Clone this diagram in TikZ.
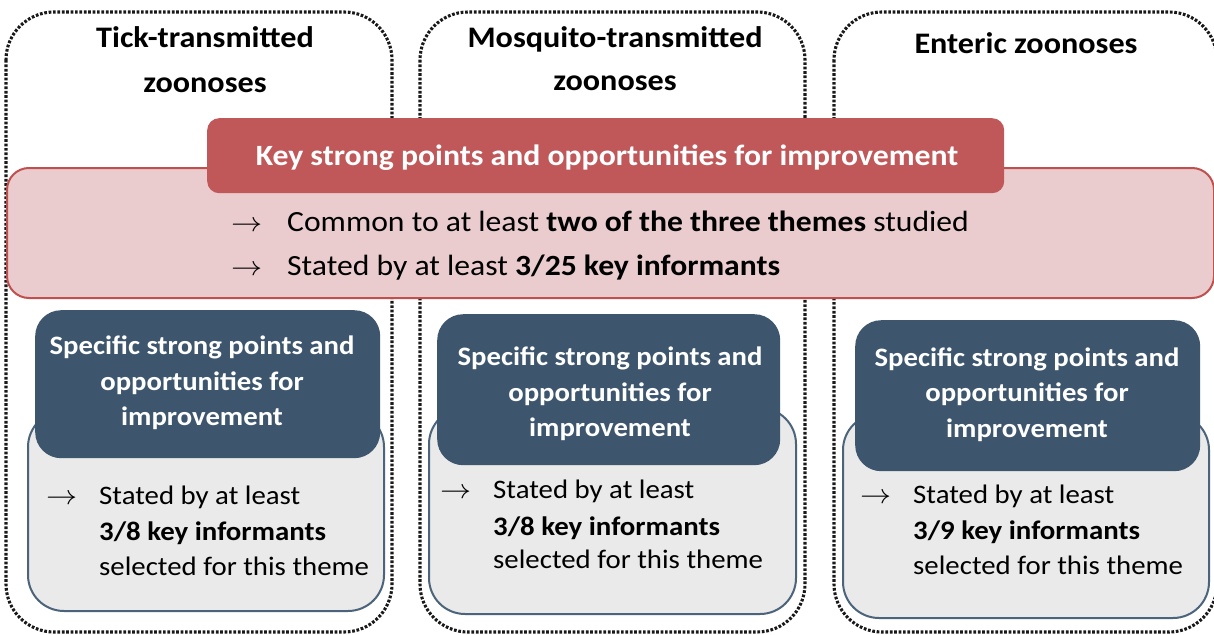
\documentclass[tikz,border=0pt]{standalone}
\usepackage{fontspec}
\setmainfont{Carlito}[FakeStretch=1.08]
\begin{document}
\begin{tikzpicture}[x=1pt,y=-1pt,
  column/.style={draw=black!90, line width=3.1pt, dash pattern=on 2.7pt off 1.7pt,
    rounded corners=48pt},
  keybox/.style={fill=keyfill, draw=keyline, line width=2pt, rounded corners=22pt,
    inner sep=0pt, anchor=north west},
  keyhead/.style={fill=keyhead, draw=none, rounded corners=12pt, inner sep=0pt,
    anchor=north west},
  themebox/.style={fill=themefill, draw=themeline, line width=2pt, rounded corners=36pt,
    inner sep=0pt, anchor=north west},
  themehead/.style={fill=themehead, draw=none, rounded corners=26pt, inner sep=0pt,
    anchor=north west},
  coltitle/.style={font=\bfseries\fontsize{29.8}{34}\selectfont, inner sep=0pt, anchor=base},
  headtxt/.style={font=\bfseries\fontsize{29.4}{34}\selectfont, text=white, inner sep=0pt, anchor=base},
  keytxt/.style={font=\fontsize{29.3}{34}\selectfont, inner sep=0pt, anchor=base west},
  subhead/.style={font=\bfseries\fontsize{26.6}{32}\selectfont, text=white, inner sep=0pt, anchor=base},
  subtxt/.style={font=\fontsize{26.7}{32}\selectfont, inner sep=0pt, anchor=base west},
  arr/.style={font=\fontsize{36}{36}\selectfont, inner sep=0pt, anchor=base west},
]
\definecolor{keyfill}{HTML}{EACCCE}
\definecolor{keyline}{HTML}{C0504D}
\definecolor{keyhead}{HTML}{C0585A}
\definecolor{themefill}{HTML}{EAEAEA}
\definecolor{themeline}{HTML}{4B637B}
\definecolor{themehead}{HTML}{3D566E}
\newcommand{\bularrow}{\scalebox{1.25}[1.1]{$\rightarrow$}}

\useasboundingbox (0,0) rectangle (1214,634);

% dotted theme columns
\draw[column] (6,12) rectangle (392,632);
\draw[column] (420,12) rectangle (805,632);
\draw[column] (834,12) rectangle (1217,632);

% column titles
\node[coltitle] (t1a) at (205,48) {Tick-transmitted};
\node[coltitle] (t1b) at (205,92) {zoonoses};
\node[coltitle] (t2a) at (615,48) {Mosquito-transmitted};
\node[coltitle] (t2b) at (615,90) {zoonoses};
\node[coltitle] (t3) at (1026,53) {Enteric zoonoses};

% shared key points band
\node[keybox, minimum width=1207pt, minimum height=130pt] (band) at (6,167) {};
\node[keyhead, minimum width=797pt, minimum height=75pt] (head) at (207,118) {};
\node[headtxt] (headt) at (607,165) {Key strong points and opportunities for improvement};
\node[arr] (ka1) at (231,231.5) {\bularrow};
\node[keytxt] (k1) at (287,231.5) {Common to at least \textbf{two of the three themes} studied};
\node[arr] (ka2) at (231,275) {\bularrow};
\node[keytxt] (k2) at (287,275) {Stated by at least \textbf{3/25 key informants}};

% theme 1
\node[themebox, minimum width=356pt, minimum height=200pt] (g1) at (27,410) {};
\node[themehead, minimum width=345pt, minimum height=148pt] (b1) at (35,310) {};
\node[subhead] (b1a) at (202,354) {Specific strong points and};
\node[subhead] (b1b) at (202,390) {opportunities for};
\node[subhead] (b1c) at (202,425) {improvement};
\node[arr] (a1) at (46,504) {\bularrow};
\node[subtxt] (s1a) at (99,504) {Stated by at least};
\node[subtxt] (s1b) at (99,540) {\textbf{3/8 key informants}};
\node[subtxt] (s1c) at (99,575) {selected for this theme};

% theme 2
\node[themebox, minimum width=367pt, minimum height=206pt] (g2) at (428,407) {};
\node[themehead, minimum width=343pt, minimum height=151pt] (b2) at (437,314) {};
\node[subhead] (b2a) at (610,365) {Specific strong points and};
\node[subhead] (b2b) at (610,401.5) {opportunities for};
\node[subhead] (b2c) at (610,436.5) {improvement};
\node[arr] (a2) at (440,498) {\bularrow};
\node[subtxt] (s2a) at (493,498) {Stated by at least};
\node[subtxt] (s2b) at (493,535) {\textbf{3/8 key informants}};
\node[subtxt] (s2c) at (493,568) {selected for this theme};

% theme 3
\node[themebox, minimum width=366pt, minimum height=204pt] (g3) at (842,413) {};
\node[themehead, minimum width=345pt, minimum height=151pt] (b3) at (855,320) {};
\node[subhead] (b3a) at (1027,366) {Specific strong points and};
\node[subhead] (b3b) at (1027,401.5) {opportunities for};
\node[subhead] (b3c) at (1027,437) {improvement};
\node[arr] (a3) at (860,503) {\bularrow};
\node[subtxt] (s3a) at (913,503) {Stated by at least};
\node[subtxt] (s3b) at (913,539) {\textbf{3/9 key informants}};
\node[subtxt] (s3c) at (913,574) {selected for this theme};
\end{tikzpicture}
\end{document}
